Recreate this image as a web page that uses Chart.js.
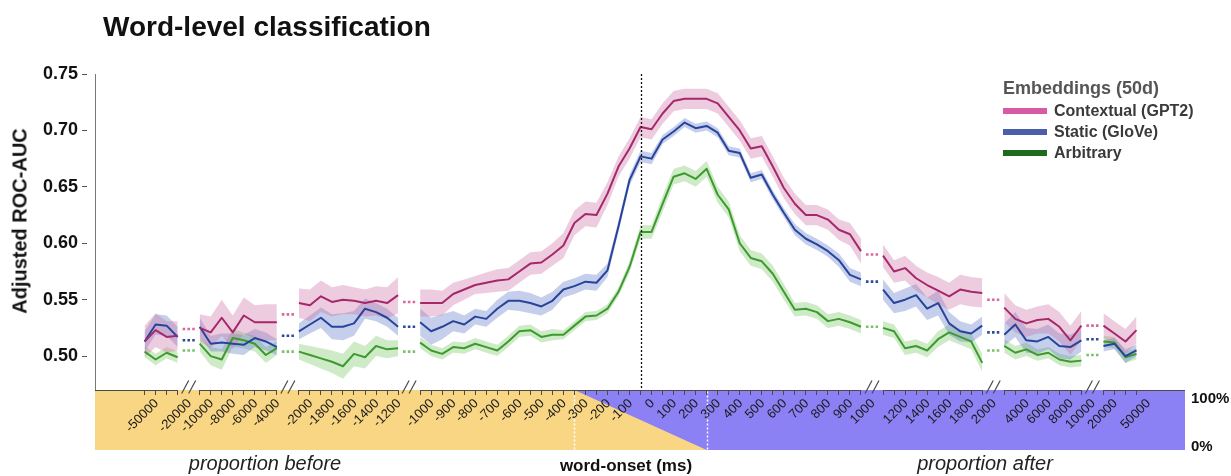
<!DOCTYPE html>
<html>
<head>
<meta charset="utf-8">
<title>Word-level classification</title>
<script src="https://cdn.jsdelivr.net/npm/chart.js@4.4.0/dist/chart.umd.min.js"></script>
<style>
  html, body { margin: 0; padding: 0; background: #fff; }
  #wrap { position: relative; width: 1231px; height: 476px; overflow: hidden;
          font-family: "Liberation Sans", Arial, Helvetica, sans-serif; color: #111; }
  #wrap canvas { position: absolute; left: 0; top: 0; }
  .txt { position: absolute; white-space: nowrap; }
  .center { transform: translate(-50%, -50%); }
  .legend-row { position: absolute; left: 1003px; height: 20px; display: flex; align-items: center; }
  .swatch { width: 44px; height: 6px; margin-right: 7px; }
  .legend-row span { font-weight: bold; font-size: 16px; color: #3a3a3a; }
</style>
</head>
<body>
<div id="wrap">
  <canvas id="chart" width="1231" height="476"></canvas>
  <div class="txt" style="left:103px; top:10px; font-size:28px; font-weight:bold; line-height:34px;">Word-level classification</div>
  <div class="txt center" style="left:20px; top:221px; font-size:20px; font-weight:bold; transform:translate(-50%,-50%) rotate(-90deg);">Adjusted ROC-AUC</div>
  <div class="txt" style="left:1003px; top:77px; font-size:18px; font-weight:bold; color:#555; line-height:22px;">Embeddings (50d)</div>
  <div id="legend"></div>
  <div class="txt center" style="left:265px; top:463px; font-size:20px; font-style:italic; color:#222;">proportion before</div>
  <div class="txt center" style="left:626px; top:466px; font-size:17px; font-weight:bold;">word-onset (ms)</div>
  <div class="txt center" style="left:985px; top:463px; font-size:20px; font-style:italic; color:#222;">proportion after</div>
</div>
<script>
// ---- time bins (ms relative to word onset), grouped into axis segments ----
const timesFarBefore  = [-50000, -40000, -30000, -20000];
const timesBefore     = [-10000, -9000, -8000, -7000, -6000, -5000, -4000, -3000];
const timesNearBefore = [-2000, -1900, -1800, -1700, -1600, -1500, -1400, -1300, -1200, -1100];
const timesAround     = [-1000, -950, -900, -850, -800, -750, -700, -650, -600, -550,
                         -500, -450, -400, -350, -300, -250, -200, -150, -100, -50,
                         0, 50, 100, 150, 200, 250, 300, 350, 400, 450,
                         500, 550, 600, 650, 700, 750, 800, 850, 900, 950, 1000];
const timesNearAfter  = [1100, 1200, 1300, 1400, 1500, 1600, 1700, 1800, 1900, 2000];
const timesAfter      = [3000, 4000, 5000, 6000, 7000, 8000, 9000, 10000];
const timesFarAfter   = [20000, 30000, 40000, 50000];

// labelled ticks on the x axis
const tickLabelMs = [-50000, -20000, -10000, -8000, -6000, -4000,
  -2000, -1800, -1600, -1400, -1200,
  -1000, -900, -800, -700, -600, -500, -400, -300, -200, -100, 0,
  100, 200, 300, 400, 500, 600, 700, 800, 900, 1000,
  1200, 1400, 1600, 1800, 2000, 4000, 6000, 8000, 10000, 20000, 50000];

// ---- mean adjusted ROC-AUC per time bin (segments concatenated in order) ----
const contextual = [
  0.513, 0.523, 0.517, 0.518,
  0.525, 0.521, 0.534, 0.521, 0.536, 0.530, 0.530, 0.530,
  0.547, 0.545, 0.553, 0.548, 0.550, 0.549, 0.547, 0.549, 0.547, 0.554,
  0.547, 0.547, 0.547, 0.555, 0.559, 0.563, 0.565, 0.567, 0.568, 0.575,
  0.582, 0.583, 0.590, 0.598, 0.618, 0.626, 0.625, 0.644, 0.668, 0.684,
  0.703, 0.701, 0.715, 0.726, 0.728, 0.728, 0.728, 0.724, 0.712, 0.700,
  0.684, 0.686, 0.668, 0.649, 0.635, 0.625, 0.625, 0.621, 0.612, 0.608, 0.593,
  0.589, 0.575, 0.578, 0.569, 0.563, 0.558, 0.553, 0.559, 0.557, 0.556,
  0.543, 0.533, 0.529, 0.532, 0.533, 0.526, 0.514, 0.527,
  0.527, 0.520, 0.513, 0.523
];
const staticGlove = [
  0.513, 0.528, 0.527, 0.517,
  0.526, 0.511, 0.512, 0.511, 0.510, 0.516, 0.513, 0.508,
  0.522, 0.528, 0.534, 0.526, 0.526, 0.529, 0.542, 0.539, 0.534, 0.526,
  0.530, 0.522, 0.526, 0.531, 0.528, 0.535, 0.533, 0.542, 0.549, 0.549,
  0.547, 0.544, 0.549, 0.559, 0.562, 0.566, 0.565, 0.576, 0.615, 0.656,
  0.677, 0.675, 0.692, 0.699, 0.707, 0.702, 0.704, 0.698, 0.682, 0.680,
  0.658, 0.661, 0.643, 0.627, 0.612, 0.604, 0.599, 0.593, 0.585, 0.572, 0.568,
  0.559, 0.547, 0.550, 0.554, 0.542, 0.547, 0.529, 0.522, 0.520, 0.527,
  0.519, 0.528, 0.514, 0.513, 0.517, 0.509, 0.508, 0.514,
  0.509, 0.511, 0.500, 0.505
];
const arbitrary = [
  0.504, 0.497, 0.503, 0.499,
  0.511, 0.500, 0.497, 0.516, 0.514, 0.511, 0.501, 0.507,
  0.504, 0.501, 0.498, 0.495, 0.491, 0.502, 0.499, 0.509, 0.506, 0.507,
  0.512, 0.505, 0.502, 0.508, 0.507, 0.511, 0.508, 0.505, 0.513, 0.522,
  0.523, 0.517, 0.519, 0.519, 0.527, 0.535, 0.536, 0.542, 0.557, 0.579,
  0.610, 0.610, 0.635, 0.659, 0.662, 0.657, 0.666, 0.643, 0.630, 0.600,
  0.587, 0.584, 0.573, 0.557, 0.541, 0.542, 0.539, 0.531, 0.533, 0.530, 0.526,
  0.525, 0.522, 0.507, 0.509, 0.505, 0.515, 0.521, 0.517, 0.513, 0.494,
  0.509, 0.503, 0.506, 0.501, 0.503, 0.497, 0.495, 0.496,
  0.513, 0.512, 0.499, 0.502
];

// ---- standard error per time bin ----
const contextualSE = [
  0.014, 0.015, 0.014, 0.013,
  0.012, 0.014, 0.016, 0.015, 0.016, 0.015, 0.016, 0.016,
  0.013, 0.014, 0.014, 0.013, 0.013, 0.012, 0.012, 0.013, 0.014, 0.016,
  0.012, 0.012, 0.011, 0.010, 0.009, 0.008, 0.009, 0.010, 0.010, 0.010,
  0.010, 0.010, 0.010, 0.011, 0.011, 0.011, 0.011, 0.010, 0.009, 0.009,
  0.009, 0.009, 0.009, 0.009, 0.009, 0.009, 0.009, 0.009, 0.009, 0.009,
  0.009, 0.009, 0.009, 0.009, 0.009, 0.009, 0.009, 0.009, 0.009, 0.010, 0.011,
  0.010, 0.010, 0.011, 0.011, 0.011, 0.012, 0.012, 0.013, 0.013, 0.013,
  0.013, 0.012, 0.012, 0.012, 0.013, 0.013, 0.013, 0.013,
  0.011, 0.011, 0.011, 0.012
];
const staticGloveSE = [
  0.009, 0.009, 0.009, 0.009,
  0.008, 0.007, 0.008, 0.009, 0.009, 0.008, 0.008, 0.007,
  0.007, 0.008, 0.009, 0.011, 0.012, 0.011, 0.009, 0.008, 0.008, 0.008,
  0.012, 0.012, 0.011, 0.009, 0.008, 0.007, 0.007, 0.008, 0.008, 0.009,
  0.009, 0.008, 0.008, 0.007, 0.007, 0.007, 0.007, 0.006, 0.005, 0.005,
  0.005, 0.005, 0.004, 0.004, 0.004, 0.004, 0.004, 0.004, 0.004, 0.004,
  0.004, 0.004, 0.004, 0.004, 0.005, 0.005, 0.005, 0.005, 0.006, 0.006, 0.006,
  0.009, 0.009, 0.010, 0.010, 0.010, 0.011, 0.010, 0.009, 0.008, 0.008,
  0.010, 0.011, 0.011, 0.011, 0.011, 0.011, 0.011, 0.010,
  0.005, 0.005, 0.006, 0.005
];
const arbitrarySE = [
  0.005, 0.005, 0.005, 0.005,
  0.007, 0.008, 0.009, 0.008, 0.007, 0.007, 0.007, 0.006,
  0.007, 0.008, 0.009, 0.010, 0.011, 0.011, 0.010, 0.009, 0.008, 0.007,
  0.005, 0.005, 0.005, 0.005, 0.005, 0.005, 0.005, 0.005, 0.005, 0.005,
  0.005, 0.005, 0.005, 0.004, 0.004, 0.004, 0.004, 0.004, 0.004, 0.005,
  0.006, 0.006, 0.007, 0.007, 0.007, 0.007, 0.007, 0.007, 0.007, 0.007,
  0.007, 0.007, 0.007, 0.007, 0.006, 0.006, 0.006, 0.006, 0.006, 0.006, 0.006,
  0.006, 0.006, 0.006, 0.006, 0.006, 0.007, 0.007, 0.007, 0.007, 0.008,
  0.006, 0.006, 0.006, 0.005, 0.005, 0.005, 0.005, 0.005,
  0.005, 0.005, 0.005, 0.005
];

// ---- level shown across each axis break (one per break) ----
const breakContextual = [0.524, 0.537, 0.548, 0.590, 0.550, 0.527];
const breakStatic     = [0.514, 0.518, 0.526, 0.566, 0.521, 0.515];
const breakArbitrary  = [0.505, 0.504, 0.504, 0.526, 0.505, 0.501];

// ---- proportion of the analysis window lying before word onset ----
const propMs     = [-300, 300];
const propBefore = [1, 0];

const yTicks = [0.50, 0.55, 0.60, 0.65, 0.70, 0.75];

// ---- series styling ----
const series = [
  { label: 'Contextual (GPT2)', values: contextual,  se: contextualSE,  brk: breakContextual,
    line: '#a5286a', band: 'rgba(205,115,165,0.36)', dots: '#d8679b', key: '#d65ba2' },
  { label: 'Static (GloVe)',    values: staticGlove, se: staticGloveSE, brk: breakStatic,
    line: '#28449a', band: 'rgba(85,115,200,0.34)',  dots: '#2f4a98', key: '#4a5ea9' },
  { label: 'Arbitrary',         values: arbitrary,   se: arbitrarySE,   brk: breakArbitrary,
    line: '#3c9b2f', band: 'rgba(110,190,85,0.33)',  dots: '#7cc06a', key: '#1e6b1e' }
];

// ---- broken x axis: every bin gets one slot, segments separated by a 2-slot break ----
const segments = [timesFarBefore, timesBefore, timesNearBefore, timesAround,
                  timesNearAfter, timesAfter, timesFarAfter];
const SEG_GAP = 2;
const slotOf = new Map();
const segRanges = [];
let slot = 0;
segments.forEach(seg => {
  const start = slot;
  seg.forEach(ms => { slotOf.set(ms, slot); slot++; });
  segRanges.push([start, slot - 1]);
  slot += SEG_GAP - 1;
});
const allSlots = [...slotOf.values()];
const labelForSlot = new Map(tickLabelMs.map(ms => [slotOf.get(ms), String(ms)]));

const X_MIN = -4.5, X_MAX = 94.4;          // a little room before/after the outer bins
const AXIS_BASE = 0.47;                    // value at which the time axis sits
const Y_MIN = 0.4168, Y_MAX = 0.75;
const PCT_MAX = (Y_MAX - Y_MIN) / (AXIS_BASE - Y_MIN);   // proportion strip fills the space under the axis

function seriesPoints(values, se, sign) {
  const pts = [];
  let idx = 0;
  segments.forEach((seg, k) => {
    if (k > 0) pts.push({ x: segRanges[k][0] - 1, y: null });
    seg.forEach(ms => {
      pts.push({ x: slotOf.get(ms), y: values[idx] + sign * (se ? se[idx] : 0) });
      idx++;
    });
  });
  return pts;
}
function breakPoints(levels) {
  const pts = [];
  levels.forEach((v, k) => {
    const end = segRanges[k][1];
    if (k > 0) pts.push({ x: end, y: null });
    pts.push({ x: end + 0.45, y: v }, { x: end + 1.55, y: v });
  });
  return pts;
}

const datasets = [];
// proportion strip under the axis
datasets.push({
  label: 'proportion after', yAxisID: 'pct', order: 40,
  data: [{ x: X_MIN, y: 1 }, { x: X_MAX, y: 1 }],
  borderColor: 'rgba(0,0,0,0)', borderWidth: 0, pointRadius: 0,
  backgroundColor: '#8b81f5', fill: 'origin'
});
datasets.push({
  label: 'proportion before', yAxisID: 'pct', order: 39,
  data: [{ x: X_MIN, y: propBefore[0] },
         ...propMs.map((ms, i) => ({ x: slotOf.get(ms), y: propBefore[i] })),
         { x: X_MAX, y: propBefore[propBefore.length - 1] }],
  borderColor: 'rgba(0,0,0,0)', borderWidth: 0, pointRadius: 0,
  backgroundColor: '#f9d683', fill: 'origin'
});
// error bands
series.forEach(s => {
  datasets.push({
    label: s.label + ' lower', yAxisID: 'y', order: 10,
    data: seriesPoints(s.values, s.se, -1),
    borderColor: 'rgba(0,0,0,0)', borderWidth: 0, pointRadius: 0, fill: false, spanGaps: false
  });
  datasets.push({
    label: s.label + ' upper', yAxisID: 'y', order: 10,
    data: seriesPoints(s.values, s.se, 1),
    borderColor: 'rgba(0,0,0,0)', borderWidth: 0, pointRadius: 0,
    backgroundColor: s.band, fill: '-1', spanGaps: false
  });
});
// dotted markers across the axis breaks
series.forEach(s => {
  datasets.push({
    label: s.label + ' break', yAxisID: 'y', order: 3,
    data: breakPoints(s.brk),
    borderColor: s.dots, borderWidth: 2.6, borderDash: [2.6, 2.2], borderCapStyle: 'butt',
    pointRadius: 0, fill: false, spanGaps: false
  });
});
// mean lines
series.forEach(s => {
  datasets.push({
    label: s.label, yAxisID: 'y', order: 1,
    data: seriesPoints(s.values, null, 0),
    borderColor: s.line, borderWidth: 2, pointRadius: 0, fill: false, spanGaps: false,
    borderJoinStyle: 'round'
  });
});

const FONT = '"Liberation Sans", Arial, Helvetica, sans-serif';

// axis lines with break marks, onset line, window markers and strip labels
const decorations = {
  id: 'decorations',
  afterDatasetsDraw(chart) {
    const { ctx, chartArea } = chart;
    const x = chart.scales.x, y = chart.scales.y, pct = chart.scales.pct;
    const base = Math.round(y.getPixelForValue(AXIS_BASE)) + 0.5;
    const line = (x1, y1, x2, y2) => { ctx.beginPath(); ctx.moveTo(x1, y1); ctx.lineTo(x2, y2); ctx.stroke(); };
    ctx.save();

    // value axis, stopping at the time axis
    const yx = Math.round(chartArea.left) + 0.5;
    ctx.strokeStyle = '#777'; ctx.lineWidth = 1;
    line(yx, y.getPixelForValue(Y_MAX), yx, base);

    // word onset
    const x0 = Math.round(x.getPixelForValue(slotOf.get(0))) + 0.5;
    ctx.strokeStyle = '#111'; ctx.lineWidth = 1.3; ctx.setLineDash([2, 2]);
    line(x0, y.getPixelForValue(Y_MAX), x0, base);

    // analysis-window limits in the proportion strip
    ctx.strokeStyle = '#ffffff'; ctx.lineWidth = 1.5;
    propMs.forEach(ms => {
      const px = Math.round(x.getPixelForValue(slotOf.get(ms))) + 0.5;
      line(px, base + 1, px, pct.getPixelForValue(0));
    });

    // broken time axis
    ctx.setLineDash([]); ctx.strokeStyle = '#4a4a4a'; ctx.lineWidth = 1.2;
    const last = segRanges.length - 1;
    segRanges.forEach(([a, b], k) => {
      const xa = k === 0 ? chartArea.left : x.getPixelForValue(a);
      const xb = k === last ? chartArea.right : x.getPixelForValue(b);
      line(xa, base, xb, base);
      if (k < last) {
        const xm = x.getPixelForValue(b + SEG_GAP / 2);
        [-3.5, 3.5].forEach(d => line(xm + d - 3.5, base + 3, xm + d + 3.5, base - 10));
      }
    });

    // proportion strip labels
    ctx.fillStyle = '#111';
    ctx.font = 'bold 15px ' + FONT;
    ctx.textAlign = 'left';
    ctx.textBaseline = 'top';
    ctx.fillText('100%', chartArea.right + 6, pct.getPixelForValue(1) + 1);
    ctx.textBaseline = 'bottom';
    ctx.fillText('0%', chartArea.right + 6, pct.getPixelForValue(0) + 4);
    ctx.restore();
  }
};

new Chart(document.getElementById('chart'), {
  type: 'line',
  data: { datasets },
  options: {
    responsive: false,
    animation: false,
    events: [],
    layout: { padding: { top: 74, right: 46, bottom: 26, left: 0 } },
    plugins: { legend: { display: false }, tooltip: { enabled: false }, title: { display: false } },
    scales: {
      x: {
        type: 'linear', min: X_MIN, max: X_MAX,
        position: { y: AXIS_BASE },
        afterBuildTicks: s => { s.ticks = allSlots.map(v => ({ value: v })); },
        ticks: {
          autoSkip: false, minRotation: 45, maxRotation: 45,
          labelOffset: 12, padding: 1, z: 1,
          color: '#1a1a1a', font: { family: FONT, size: 13 },
          callback: v => labelForSlot.get(v) ?? ''
        },
        grid: { drawOnChartArea: false, drawTicks: true, tickLength: 5, color: '#4a4a4a', z: 1 },
        border: { display: false }
      },
      y: {
        type: 'linear', position: 'left', min: Y_MIN, max: Y_MAX,
        afterBuildTicks: s => { s.ticks = yTicks.map(v => ({ value: v })); },
        afterFit: s => { s.width = 95; },
        ticks: {
          color: '#111', padding: 4,
          font: { family: FONT, size: 18, weight: 'bold' },
          callback: v => Number(v).toFixed(2)
        },
        grid: { drawOnChartArea: false, tickLength: 13, tickBorderDash: [5, 20], color: '#555' },
        border: { display: false }
      },
      pct: {
        type: 'linear', position: 'right', min: 0, max: PCT_MAX, display: false
      }
    }
  },
  plugins: [decorations]
});

// legend
const legend = document.getElementById('legend');
series.forEach((s, i) => {
  const row = document.createElement('div');
  row.className = 'legend-row';
  row.style.top = (101 + i * 21) + 'px';
  row.innerHTML = '<div class="swatch" style="background:' + s.key + '"></div><span>' + s.label + '</span>';
  legend.appendChild(row);
});
</script>
</body>
</html>
